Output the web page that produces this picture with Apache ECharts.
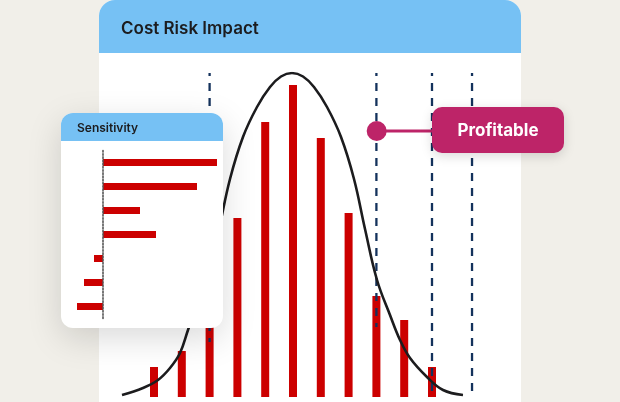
<!DOCTYPE html>
<html><head><meta charset="utf-8">
<script src="https://cdn.jsdelivr.net/npm/echarts@6.0.0/dist/echarts.min.js"></script>
<style>html,body{margin:0;padding:0;background:#f1efe9;}#c{width:620px;height:402px;}</style>
</head><body><div id="c"></div>
<script>
// ---- data ----
const titleText = 'Cost Risk Impact';
const sensitivityTitle = 'Sensitivity';
const calloutText = 'Profitable';

const binPositions = [0, 1, 2, 3, 4, 5, 6, 7, 8, 9, 10];
const binCounts = [30, 46, 105, 179, 275, 312, 259, 184, 101, 77, 30];

const curveX = [-1.151, -0.396, 0.144, 0.576, 0.935, 1.223, 1.439, 1.906, 2.338, 2.734, 3.201, 3.705, 4.173, 4.568, 4.964, 5.360, 5.755, 6.223, 6.727, 7.194, 7.590, 8.022, 8.489, 8.849, 9.209, 9.820, 10.396, 11.115];
const curveY = [2, 9, 17, 29, 44, 67, 84, 117, 168, 218, 260, 290, 310, 320.5, 324, 320.5, 310, 290, 260, 218, 168, 117, 82, 57, 39, 20, 7, 2];

const thresholdX = [2, 8, 10, 11.44];
const thresholdTop = [324, 324, 324, 324];
const thresholdBottom = [55, 70, 0, 0];

const markerPoint = [8.01, 266];
const connectorEndX = 10;

const sensitivityFactors = ['Factor 1', 'Factor 2', 'Factor 3', 'Factor 4', 'Factor 5', 'Factor 6', 'Factor 7'];
const sensitivityValues = [114, 94, 37, 53, -9, -19, -26];

// ---- styles ----
const RED = '#cc0000', BLUE = '#76c1f4', NAVY = '#14325c', MAGENTA = '#bd2468', INK = '#1c1c1e';
const FONT = 'Inter, "Noto Sans", sans-serif';

const chart = echarts.init(document.getElementById('c'), null, {renderer: 'canvas'});

const thresholdSeries = thresholdX.map((x, i) => ({
  type: 'line', xAxisIndex: 0, yAxisIndex: 0, z: 3, silent: true,
  showSymbol: false, symbol: 'none',
  data: [[x, thresholdTop[i]], [x, thresholdBottom[i]]],
  lineStyle: {color: NAVY, width: 2.3, type: [8, 7], dashOffset: 5}
}));

chart.setOption({
  animation: false,
  backgroundColor: '#f1efe9',
  grid: [
    {left: 98.4, top: 73, width: 417, height: 324},
    {left: 73, top: 150.5, width: 150, height: 168, z: 11}
  ],
  xAxis: [
    {type: 'value', gridIndex: 0, min: -2, max: 13, show: false},
    {type: 'value', gridIndex: 1, min: -30, max: 120, show: false}
  ],
  yAxis: [
    {type: 'value', gridIndex: 0, min: 0, max: 324, show: false},
    {type: 'category', gridIndex: 1, inverse: true, data: sensitivityFactors, z: 12,
     axisLine: {show: true, onZero: true, lineStyle: {color: '#555', width: 1.6, type: [1.6, 1.6]}},
     axisTick: {show: false}, axisLabel: {show: false}, splitLine: {show: false}}
  ],
  graphic: [
    {type: 'rect', z: 0, shape: {x: 99, y: 0, width: 422, height: 430, r: [16, 16, 0, 0]}, style: {fill: '#ffffff'}},
    {type: 'rect', z: 0, shape: {x: 99, y: 0, width: 422, height: 53, r: [16, 16, 0, 0]}, style: {fill: BLUE}},
    {type: 'text', z: 1, x: 121, y: 29, style: {text: titleText, font: '600 17px ' + FONT, fill: INK, textAlign: 'left', textVerticalAlign: 'middle', align: 'left', verticalAlign: 'middle'}},
    {type: 'rect', z: 10, shape: {x: 61, y: 113, width: 162, height: 215, r: 12}, style: {fill: '#ffffff', shadowBlur: 34, shadowColor: 'rgba(0,0,0,0.15)', shadowOffsetY: 10}},
    {type: 'rect', z: 10, shape: {x: 61, y: 113, width: 162, height: 28, r: [12, 12, 0, 0]}, style: {fill: BLUE}},
    {type: 'text', z: 10, x: 77, y: 128, style: {text: sensitivityTitle, font: '600 12px ' + FONT, fill: INK, textAlign: 'left', textVerticalAlign: 'middle', align: 'left', verticalAlign: 'middle'}},
    {type: 'rect', z: 20, shape: {x: 432, y: 107, width: 132, height: 46, r: 10}, style: {fill: MAGENTA, shadowBlur: 12, shadowColor: 'rgba(0,0,0,0.15)', shadowOffsetY: 3}},
    {type: 'text', z: 21, x: 498, y: 131, style: {text: calloutText, font: '700 17px ' + FONT, fill: '#ffffff', textAlign: 'center', textVerticalAlign: 'middle', align: 'center', verticalAlign: 'middle'}}
  ],
  series: [
    {type: 'bar', xAxisIndex: 0, yAxisIndex: 0, z: 2, barWidth: 8,
     data: binPositions.map((x, i) => [x, binCounts[i]]),
     itemStyle: {color: RED}},
    ...thresholdSeries,
    {type: 'line', xAxisIndex: 0, yAxisIndex: 0, z: 4, smooth: 0.4, showSymbol: false, symbol: 'none',
     data: curveX.map((x, i) => [x, curveY[i]]),
     lineStyle: {color: INK, width: 2.6}},
    {type: 'line', xAxisIndex: 0, yAxisIndex: 0, z: 5, showSymbol: false, symbol: 'none',
     data: [markerPoint, [connectorEndX, markerPoint[1]]],
     lineStyle: {color: MAGENTA, width: 3.2}},
    {type: 'scatter', xAxisIndex: 0, yAxisIndex: 0, z: 6, symbolSize: 20,
     data: [markerPoint], itemStyle: {color: MAGENTA, opacity: 1}},
    {type: 'bar', xAxisIndex: 1, yAxisIndex: 1, z: 11, barWidth: 7,
     data: sensitivityValues, itemStyle: {color: RED}}
  ]
});
</script></body></html>
